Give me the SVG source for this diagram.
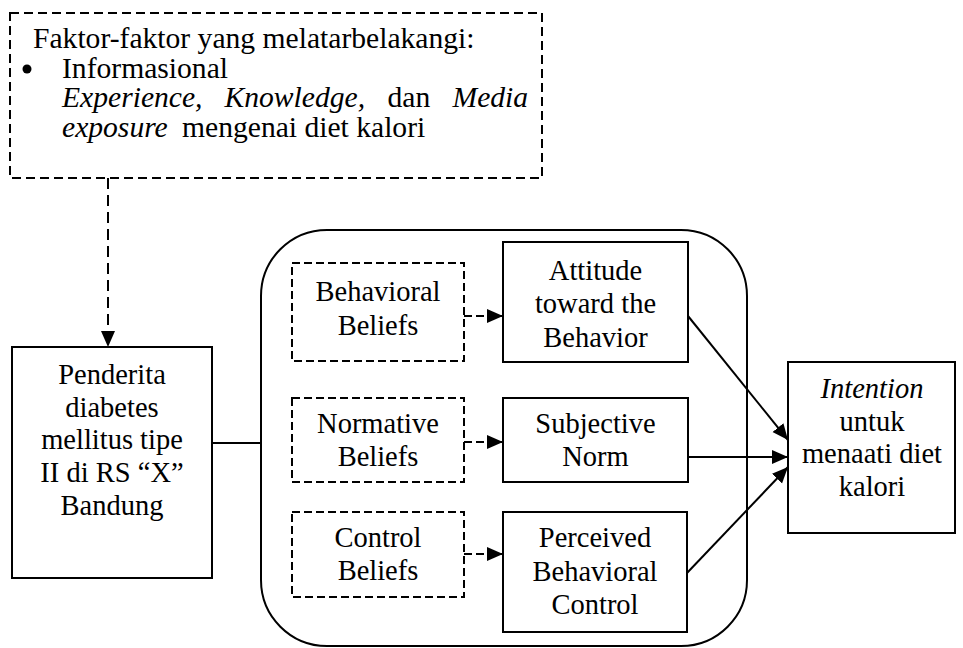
<svg xmlns="http://www.w3.org/2000/svg" width="963" height="648" viewBox="0 0 963 648">
<style>
text{font-family:"Liberation Serif","Times New Roman",serif;font-size:28.5px;fill:#000}
.c{text-anchor:middle}
.i{font-style:italic}
.top{font-size:29.6px}
.box{fill:#fff;stroke:#000;stroke-width:2}
.dbox{fill:#fff;stroke:#000;stroke-width:2;stroke-dasharray:8,4}
.tbox{fill:#fff;stroke:#000;stroke-width:2;stroke-dasharray:9,5}
.ln{fill:none;stroke:#000;stroke-width:2}
.dln{fill:none;stroke:#000;stroke-width:2;stroke-dasharray:8,4}
.vln{fill:none;stroke:#000;stroke-width:2;stroke-dasharray:11,6}
</style>
<defs>
<marker id="ah" markerUnits="userSpaceOnUse" markerWidth="17" markerHeight="15" refX="16" refY="7" orient="auto">
<path d="M0,0 L16,7 L0,14 z" fill="#000" stroke="none"/>
</marker>
</defs>
<rect width="963" height="648" fill="#fff"/>
<g id="faktor">
<rect class="tbox" x="10" y="13" width="532" height="165"/>
<text class="top" x="33" y="48">Faktor-faktor yang melatarbelakangi:</text>
<circle cx="27" cy="69" r="4.5" fill="#000"/>
<text class="top" x="62" y="78">Informasional</text>
<text class="top i" x="62" y="107">Experience,</text>
<text class="top i" x="224.5" y="107">Knowledge,</text>
<text class="top" x="387.5" y="107">dan</text>
<text class="top i" x="452.5" y="107">Media</text>
<text class="top i" x="62" y="137">exposure</text>
<text class="top" x="182" y="137">mengenai diet kalori</text>
</g>
<g id="group">
<rect class="ln" x="261" y="230" width="486" height="416" rx="66" ry="66"/>
</g>
<g id="penderita">
<rect class="box" x="12" y="347" width="200" height="231"/>
<text class="c" x="112" y="384">Penderita</text>
<text class="c" x="112" y="417">diabetes</text>
<text class="c" x="112" y="449">mellitus tipe</text>
<text class="c" x="112" y="482">II di RS “X”</text>
<text class="c" x="112" y="515">Bandung</text>
</g>
<g id="behavioral-beliefs">
<rect class="dbox" x="292" y="263" width="172" height="98"/>
<text class="c" x="378" y="301">Behavioral</text>
<text class="c" x="378" y="335">Beliefs</text>
</g>
<g id="normative-beliefs">
<rect class="dbox" x="292" y="398" width="172" height="84"/>
<text class="c" x="378" y="433">Normative</text>
<text class="c" x="378" y="466">Beliefs</text>
</g>
<g id="control-beliefs">
<rect class="dbox" x="292" y="512" width="172" height="85"/>
<text class="c" x="378" y="547">Control</text>
<text class="c" x="378" y="580">Beliefs</text>
</g>
<g id="attitude">
<rect class="box" x="503" y="242" width="185" height="120"/>
<text class="c" x="595.5" y="280">Attitude</text>
<text class="c" x="595.5" y="313">toward the</text>
<text class="c" x="595.5" y="347">Behavior</text>
</g>
<g id="subjective-norm">
<rect class="box" x="503" y="398" width="185" height="84"/>
<text class="c" x="595.5" y="433">Subjective</text>
<text class="c" x="595.5" y="466">Norm</text>
</g>
<g id="pbc">
<rect class="box" x="503" y="512" width="184" height="120"/>
<text class="c" x="595" y="547">Perceived</text>
<text class="c" x="595" y="581">Behavioral</text>
<text class="c" x="595" y="614">Control</text>
</g>
<g id="intention">
<rect class="box" x="788" y="362" width="167" height="171"/>
<text class="c i" x="872" y="398">Intention</text>
<text class="c" x="872" y="431">untuk</text>
<text class="c" x="872" y="463">menaati diet</text>
<text class="c" x="872" y="496">kalori</text>
</g>
<g id="connectors">
<line class="vln" x1="108" y1="178" x2="108" y2="347" marker-end="url(#ah)"/>
<line class="ln" x1="212" y1="443" x2="261" y2="443"/>
<line class="dln" x1="464" y1="316" x2="503" y2="316" marker-end="url(#ah)"/>
<line class="dln" x1="464" y1="442" x2="503" y2="442" marker-end="url(#ah)"/>
<line class="dln" x1="464" y1="554" x2="503" y2="554" marker-end="url(#ah)"/>
<line class="ln" x1="688" y1="316" x2="788" y2="440" marker-end="url(#ah)"/>
<line class="ln" x1="688" y1="457" x2="788" y2="457" marker-end="url(#ah)"/>
<line class="ln" x1="687" y1="573" x2="788" y2="467" marker-end="url(#ah)"/>
</g>
</svg>
